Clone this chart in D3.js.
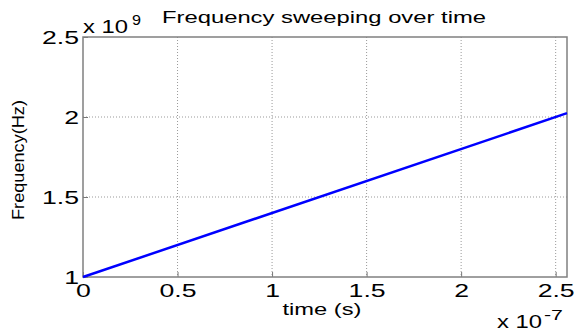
<!DOCTYPE html>
<html>
<head>
<meta charset="utf-8">
<script src="https://cdn.jsdelivr.net/npm/d3@7"></script>
<style>
  html, body { margin: 0; padding: 0; background: #fff; }
  svg { display: block; font-family: "Liberation Sans", Arial, sans-serif; }
</style>
</head>
<body>
<svg id="chart"></svg>
<script>
// Frequenz-Sweep: linear von 1 GHz bis ~2.02 GHz über 256 ns
const timeVals   = [0, 2.56];      // x 1e-7 s
const freqVals   = [1, 2.024];     // x 1e9 Hz
const xTicks     = [0, 0.5, 1, 1.5, 2, 2.5];
const xTickLabels = ["0", "0.5", "1", "1.5", "2", "2.5"];
const yTicks     = [1, 1.5, 2, 2.5];
const yTickLabels = ["1", "1.5", "2", "2.5"];

const width = 578, height = 335;
const margin = { top: 37, right: 11, bottom: 58, left: 83 };
const innerWidth  = width  - margin.left - margin.right;
const innerHeight = height - margin.top  - margin.bottom;
const stretch = 1.4;   // Bild ist horizontal gestreckt

const svg = d3.select("#chart")
  .attr("width", width)
  .attr("height", height)
  .attr("viewBox", `0 0 ${width} ${height}`);

svg.append("rect").attr("width", width).attr("height", height).attr("fill", "#fff");

const g = svg.append("g")
  .attr("transform", `translate(${margin.left},${margin.top})`);

const x = d3.scaleLinear().domain([0, 2.56]).range([0, innerWidth]);
const y = d3.scaleLinear().domain([1, 2.5]).range([innerHeight, 0]);

// Text horizontal strecken (über textLength)
function widen(sel, f) {
  sel.each(function () {
    const w = this.getComputedTextLength();
    d3.select(this)
      .attr("textLength", w * f)
      .attr("lengthAdjust", "spacingAndGlyphs");
  });
}

// Gitter
g.append("g")
  .selectAll("line")
  .data(xTicks.slice(1))
  .join("line")
  .attr("x1", d => x(d)).attr("x2", d => x(d))
  .attr("y1", 0).attr("y2", innerHeight)
  .attr("stroke", "#999").attr("stroke-width", 1)
  .attr("stroke-dasharray", "1,2");

g.append("g")
  .selectAll("line")
  .data(yTicks.slice(1, -1))
  .join("line")
  .attr("x1", 0).attr("x2", innerWidth)
  .attr("y1", d => y(d)).attr("y2", d => y(d))
  .attr("stroke", "#999").attr("stroke-width", 1)
  .attr("stroke-dasharray", "1,2");

// Achsen (Ticks nach innen)
const xAxis = g.append("g")
  .attr("transform", `translate(0,${innerHeight})`)
  .call(d3.axisBottom(x)
    .tickValues(xTicks)
    .tickFormat((d, i) => xTickLabels[i])
    .tickSizeInner(-5).tickSizeOuter(0).tickPadding(7));

const yAxis = g.append("g")
  .call(d3.axisLeft(y)
    .tickValues(yTicks)
    .tickFormat((d, i) => yTickLabels[i])
    .tickSizeInner(-5).tickSizeOuter(0).tickPadding(4));

[xAxis, yAxis].forEach(ax => {
  ax.select(".domain").remove();
  ax.selectAll(".tick line").attr("stroke", "#777").attr("stroke-width", 1);
  ax.selectAll(".tick text")
    .attr("fill", "#000")
    .attr("font-size", "19px")
    .attr("font-family", "Liberation Sans, Arial, sans-serif")
    .call(widen, stretch);
});
xAxis.selectAll(".tick text").attr("dy", "0.68em");

// Rahmen
g.append("rect")
  .attr("width", innerWidth).attr("height", innerHeight)
  .attr("fill", "none").attr("stroke", "#808080").attr("stroke-width", 1.5);

// Linie
const line = d3.line()
  .x((d, i) => x(timeVals[i]))
  .y(d => y(d));

g.append("path")
  .datum(freqVals)
  .attr("d", line)
  .attr("fill", "none")
  .attr("stroke", "#0000ff")
  .attr("stroke-width", 2.5);

// Titel
svg.append("text")
  .attr("x", 324).attr("y", 23)
  .attr("text-anchor", "middle")
  .attr("font-size", "17px")
  .attr("textLength", 324).attr("lengthAdjust", "spacingAndGlyphs")
  .text("Frequency sweeping over time");

// Achsenbeschriftungen
svg.append("text")
  .attr("x", 322).attr("y", 315)
  .attr("text-anchor", "middle")
  .attr("font-size", "17px")
  .attr("textLength", 79).attr("lengthAdjust", "spacingAndGlyphs")
  .text("time (s)");

svg.append("text")
  .attr("transform", "translate(24,160) rotate(-90)")
  .attr("text-anchor", "middle")
  .attr("font-size", "16.5px")
  .attr("textLength", 120).attr("lengthAdjust", "spacingAndGlyphs")
  .text("Frequency(Hz)");

// Exponenten
const expTop = svg.append("text").attr("x", 83).attr("y", 33).attr("font-size", "19px");
expTop.append("tspan").attr("textLength", 45).attr("lengthAdjust", "spacingAndGlyphs").text("x 10");
expTop.append("tspan").attr("x", 132).attr("y", 25).attr("font-size", "14px")
  .attr("textLength", 9).attr("lengthAdjust", "spacingAndGlyphs").text("9");

const expBot = svg.append("text").attr("x", 497).attr("y", 328).attr("font-size", "19px");
expBot.append("tspan").attr("textLength", 45).attr("lengthAdjust", "spacingAndGlyphs").text("x 10");
expBot.append("tspan").attr("x", 544).attr("y", 320).attr("font-size", "14px")
  .attr("textLength", 19).attr("lengthAdjust", "spacingAndGlyphs").text("-7");
</script>
</body>
</html>
